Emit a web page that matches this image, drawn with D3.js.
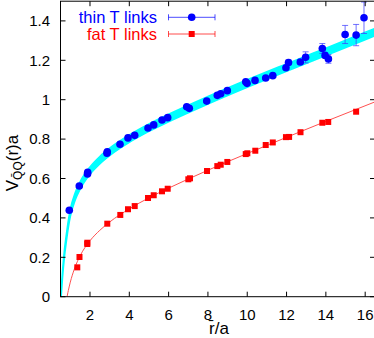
<!DOCTYPE html>
<html>
<head>
<meta charset="utf-8">
<script src="https://cdn.jsdelivr.net/npm/d3@7/dist/d3.min.js"></script>
<style>
    body{ margin:0; background:#fff; }
    svg{ display:block; font-family:"Liberation Sans", Arial, sans-serif; }
</style>
</head>
<body>
<svg id="chart" width="374" height="338"></svg>
<script>
'use strict';

// thin T links (blue circles)
var thinR = [0.947, 1.455, 1.873, 1.883, 2.865, 2.88, 3.527, 3.934, 4.275, 4.952, 5.242, 5.664,
             5.954, 6.921, 7.053, 7.939, 8.478, 8.651, 8.987, 9.924, 9.99, 10.397, 10.94, 11.30,
             11.97, 12.10, 12.70, 12.97, 13.82, 13.96, 14.13, 14.98, 15.54, 15.94];
var thinV = [0.439, 0.562, 0.623, 0.631, 0.728, 0.736, 0.774, 0.806, 0.819, 0.856, 0.872, 0.897,
             0.909, 0.964, 0.956, 0.993, 1.022, 1.030, 1.046, 1.091, 1.083, 1.098, 1.110, 1.122,
             1.162, 1.189, 1.191, 1.215, 1.260, 1.225, 1.207, 1.331, 1.328, 1.416];
var thinErr = [0.004, 0.004, 0.004, 0.004, 0.004, 0.004, 0.004, 0.004, 0.004, 0.004, 0.004, 0.004,
               0.005, 0.005, 0.005, 0.005, 0.005, 0.005, 0.005, 0.006, 0.006, 0.006, 0.006, 0.008,
               0.010, 0.012, 0.012, 0.028, 0.025, 0.012, 0.022, 0.046, 0.054, 0.080];

// fat T links (red squares)
var fatR = [1.354, 1.466, 1.863, 1.863, 2.88, 3.542, 3.934, 4.275, 4.952, 5.242, 5.664, 5.954,
            7.003, 7.089, 7.954, 8.478, 8.651, 8.987, 9.924, 10.005, 10.41, 10.94, 11.30, 11.97,
            12.13, 12.71, 13.82, 14.12, 15.54];
var fatV = [0.149, 0.2015, 0.2675, 0.274, 0.3706, 0.415, 0.444, 0.460, 0.501, 0.515, 0.535, 0.548,
            0.596, 0.601, 0.638, 0.663, 0.670, 0.684, 0.724, 0.728, 0.741, 0.770, 0.783, 0.810,
            0.811, 0.835, 0.883, 0.887, 0.939];

// fit curves
var thinFitR = [0.5, 0.55, 0.6, 0.7, 0.8, 0.9, 1.0, 1.25, 1.5, 2, 2.5, 3, 4, 5, 6, 8, 10, 12, 14, 16.5];
var thinFitV = [-0.03, 0.04, 0.11, 0.22, 0.30, 0.37, 0.425, 0.51, 0.565, 0.64, 0.693, 0.735, 0.802,
                0.858, 0.907, 0.997, 1.082, 1.163, 1.243, 1.343];
var fatFitR = [0.8, 0.85, 0.9, 1.0, 1.2, 1.5, 2, 2.5, 3, 4, 5, 6, 8, 10, 12, 14, 16.5];
var fatFitV = [-0.02, 0.008, 0.032, 0.074, 0.139, 0.208, 0.284, 0.337, 0.379, 0.446, 0.502, 0.551,
               0.642, 0.727, 0.809, 0.890, 0.989];

var xTicks = [2, 4, 6, 8, 10, 12, 14, 16];
var yTicks = [0, 0.2, 0.4, 0.6, 0.8, 1, 1.2, 1.4];
var legendNames = ['thin T links', 'fat T links'];

(function(){
    var svg = d3.select('#chart'),
        pLeft = 60.5, pRight = 375, pTop = 1.2, pBottom = 296.7,
        blue = '#0000ff', red = '#ff0000', bandHalf = 0.019;

    var x = d3.scaleLinear().domain([0.5, 16.5]).range([pLeft, pRight]),
        y = d3.scaleLinear().domain([0, 1.5]).range([pBottom, pTop]);

    svg.append('defs').append('clipPath').attr('id', 'plotClip')
        .append('rect')
        .attr('x', pLeft).attr('y', pTop)
        .attr('width', pRight - pLeft).attr('height', pBottom - pTop);

    var plot = svg.append('g').attr('clip-path', 'url(#plotClip)');

    // cyan error band of the thin fit
    var band = d3.area()
        .x(function( d, i ){ return x(thinFitR[i]); })
        .y0(function( d ){ return y(d - bandHalf); })
        .y1(function( d ){ return y(d + bandHalf); })
        .curve(d3.curveMonotoneX);

    plot.append('path')
        .attr('d', band(thinFitV))
        .attr('fill', '#00ffff')
        .attr('stroke', '#00ffff')
        .attr('stroke-width', 1.5);

    // red fit line
    var line = d3.line()
        .x(function( d, i ){ return x(fatFitR[i]); })
        .y(function( d ){ return y(d); })
        .curve(d3.curveMonotoneX);

    plot.append('path')
        .attr('d', line(fatFitV))
        .attr('fill', 'none')
        .attr('stroke', '#ff5050')
        .attr('stroke-width', 1);

    // blue error bars
    var errs = plot.append('g')
        .attr('stroke', '#4040ff')
        .attr('stroke-opacity', 0.75)
        .attr('stroke-width', 1);

    thinR.forEach(function( r, i ){
        var cx = x(r), hi = y(thinV[i] + thinErr[i]), lo = y(thinV[i] - thinErr[i]);
        errs.append('line').attr('x1', cx).attr('x2', cx).attr('y1', hi).attr('y2', lo);
        errs.append('line').attr('x1', cx - 3).attr('x2', cx + 3).attr('y1', hi).attr('y2', hi);
        errs.append('line').attr('x1', cx - 3).attr('x2', cx + 3).attr('y1', lo).attr('y2', lo);
    });

    plot.append('g').selectAll('rect')
        .data(fatR)
        .enter().append('rect')
        .attr('x', function( d ){ return x(d) - 3; })
        .attr('y', function( d, i ){ return y(fatV[i]) - 3; })
        .attr('width', 6).attr('height', 6)
        .attr('fill', red);

    plot.append('g').selectAll('circle')
        .data(thinR)
        .enter().append('circle')
        .attr('cx', function( d ){ return x(d); })
        .attr('cy', function( d, i ){ return y(thinV[i]); })
        .attr('r', 3.8)
        .attr('fill', blue);

    // frame + mirrored inward ticks
    svg.append('rect')
        .attr('x', pLeft).attr('y', pTop)
        .attr('width', pRight - pLeft).attr('height', pBottom - pTop)
        .attr('fill', 'none').attr('stroke', '#000').attr('stroke-width', 1);

    var ticks = svg.append('g').attr('stroke', '#000').attr('stroke-width', 1);
    xTicks.forEach(function( t ){
        ticks.append('line').attr('x1', x(t)).attr('x2', x(t)).attr('y1', pBottom).attr('y2', pBottom - 5);
        ticks.append('line').attr('x1', x(t)).attr('x2', x(t)).attr('y1', pTop).attr('y2', pTop + 5);
    });
    yTicks.forEach(function( t ){
        ticks.append('line').attr('x1', pLeft).attr('x2', pLeft + 5).attr('y1', y(t)).attr('y2', y(t));
        ticks.append('line').attr('x1', pRight).attr('x2', pRight - 5).attr('y1', y(t)).attr('y2', y(t));
    });

    svg.append('g').selectAll('text')
        .data(xTicks)
        .enter().append('text')
        .attr('x', function( d ){ return x(d); })
        .attr('y', 320)
        .attr('text-anchor', 'middle')
        .attr('font-size', 15)
        .text(function( d ){ return d; });

    svg.append('g').selectAll('text')
        .data(yTicks)
        .enter().append('text')
        .attr('x', 50)
        .attr('y', function( d ){ return y(d) + 5.3; })
        .attr('text-anchor', 'end')
        .attr('font-size', 15)
        .text(function( d ){ return d; });

    // axis titles
    svg.append('text')
        .attr('x', 219).attr('y', 334)
        .attr('text-anchor', 'middle')
        .attr('font-size', 17)
        .text('r\u0304/a');

    var ylab = svg.append('text')
        .attr('transform', 'translate(18,163) rotate(-90)')
        .attr('text-anchor', 'middle')
        .attr('font-size', 17);
    ylab.append('tspan').text('V');
    ylab.append('tspan').attr('font-size', 12).attr('dy', 4).text('Q\u0304Q');
    ylab.append('tspan').attr('dy', -4).text('(r)a');

    // legend
    var legend = svg.append('g');
    [[blue, 17.3], [red, 34]].forEach(function( s, i ){
        var ly = s[1];
        legend.append('text')
            .attr('x', 157).attr('y', ly + 5.7)
            .attr('text-anchor', 'end')
            .attr('font-size', 16.5)
            .attr('fill', s[0])
            .text(legendNames[i]);
        var g = legend.append('g').attr('stroke', s[0]).attr('stroke-opacity', 0.7);
        g.append('line').attr('x1', 168.5).attr('x2', 215).attr('y1', ly).attr('y2', ly);
        g.append('line').attr('x1', 168.5).attr('x2', 168.5).attr('y1', ly - 3).attr('y2', ly + 3);
        g.append('line').attr('x1', 215).attr('x2', 215).attr('y1', ly - 3).attr('y2', ly + 3);
        if ( i === 0 ){
            legend.append('circle').attr('cx', 191.7).attr('cy', ly).attr('r', 3.8).attr('fill', s[0]);
        }else{
            legend.append('rect').attr('x', 188.7).attr('y', ly - 3).attr('width', 6).attr('height', 6).attr('fill', s[0]);
        }
    });
})();
</script>
</body>
</html>
